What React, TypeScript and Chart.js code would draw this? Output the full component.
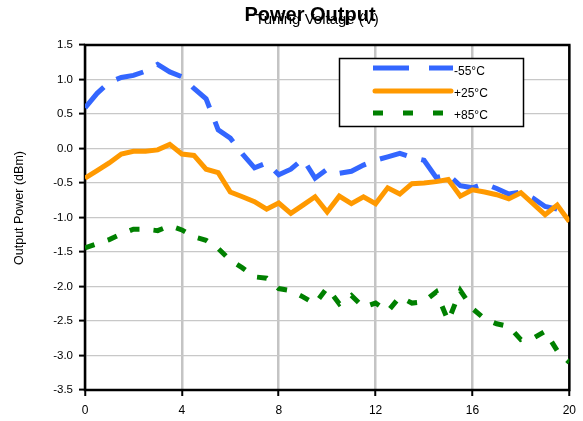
import { useEffect, useRef } from 'react';
import { Chart, registerables } from 'chart.js';

Chart.register(...registerables);

// ---- data ----
const VOLTAGE = [
  0, 0.5, 1, 1.5, 2, 2.5, 3, 3.5, 4, 4.5, 5, 5.5, 6, 6.5, 7, 7.5, 8, 8.5, 9, 9.5, 10,
  10.5, 11, 11.5, 12, 12.5, 13, 13.5, 14, 14.5, 15, 15.5, 16, 16.5, 17, 17.5, 18, 18.5, 19, 19.5, 20,
];
const MINUS55 = [
  0.59, 0.8, 0.96, 1.03, 1.06, 1.12, 1.22, 1.11, 1.04, 0.87, 0.72, 0.27, 0.15, -0.08, -0.28, -0.21,
  -0.38, -0.3, -0.15, -0.43, -0.3, -0.36, -0.33, -0.24, -0.17, -0.12, -0.07, -0.13, -0.17, -0.42,
  -0.38, -0.54, -0.57, -0.51, -0.58, -0.66, -0.63, -0.72, -0.84, -0.88, -0.95,
];
const PLUS25 = [
  -0.43, -0.32, -0.21, -0.08, -0.04, -0.04, -0.02, 0.06, -0.08, -0.1, -0.3, -0.35, -0.63, -0.7,
  -0.77, -0.88, -0.79, -0.94, -0.82, -0.7, -0.92, -0.69, -0.8, -0.7, -0.8, -0.57, -0.66, -0.51,
  -0.5, -0.48, -0.45, -0.69, -0.6, -0.63, -0.67, -0.73, -0.64, -0.8, -0.96, -0.82, -1.06,
];
const PLUS85 = [
  -1.44, -1.38, -1.32, -1.24, -1.17, -1.17, -1.19, -1.12, -1.18, -1.28, -1.33, -1.45, -1.62, -1.73,
  -1.86, -1.88, -2.03, -2.06, -2.15, -2.25, -2.02, -2.25, -2.13, -2.3, -2.24, -2.36, -2.15, -2.24,
  -2.22, -2.08, -2.5, -2.06, -2.32, -2.47, -2.54, -2.58, -2.77, -2.75, -2.65, -2.93, -3.1,
];
const SERIES_LABELS = ['-55°C', '+25°C', '+85°C'];
const X_MIN = 0;
const X_MAX = 20;
const X_STEP = 4;
const Y_MIN = -3.5;
const Y_MAX = 1.5;
const Y_STEP = 0.5;
const TITLE = 'Power Output';
const X_TITLE = 'Tuning Voltage (V)';
const Y_TITLE = 'Output Power (dBm)';

const FONT = '"Liberation Sans", Arial, Helvetica, sans-serif';
const COLORS = ['#3366ff', '#ff9900', '#008000'];
const PLOT_DASH = [[28, 15], [], [10, 14]];
const LEGEND_DASH = [[36, 20], [], [10, 20]];

const decorPlugin = {
  id: 'decor',
  beforeDatasetsDraw(chart: any) {
    const { ctx, chartArea } = chart;
    ctx.save();
    ctx.strokeStyle = '#000';
    ctx.lineWidth = 2.5;
    ctx.strokeRect(chartArea.left, chartArea.top, chartArea.right - chartArea.left, chartArea.bottom - chartArea.top);
    ctx.restore();
  },
  afterDraw(chart: any) {
    const { ctx } = chart;
    ctx.save();
    // legend box
    ctx.fillStyle = '#fff';
    ctx.fillRect(339.5, 58.5, 184, 68);
    ctx.strokeStyle = '#000';
    ctx.lineWidth = 1.5;
    ctx.strokeRect(339.5, 58.5, 184, 68);
    const lineY = [68, 91, 113];
    const textY = [72, 94, 116];
    SERIES_LABELS.forEach((lab, i) => {
      ctx.save();
      ctx.strokeStyle = COLORS[i];
      ctx.lineWidth = 5;
      ctx.lineCap = i === 1 ? 'round' : 'butt';
      ctx.setLineDash(LEGEND_DASH[i]);
      ctx.beginPath();
      ctx.moveTo(i === 1 ? 375 : 373, lineY[i]);
      ctx.lineTo(i === 1 ? 451 : 453, lineY[i]);
      ctx.stroke();
      ctx.restore();
      ctx.fillStyle = '#000';
      ctx.font = `12px ${FONT}`;
      ctx.textAlign = 'left';
      ctx.textBaseline = 'middle';
      ctx.fillText(lab, 454, textY[i]);
    });
    // titles
    ctx.fillStyle = '#000';
    ctx.textAlign = 'center';
    ctx.textBaseline = 'alphabetic';
    ctx.font = `15px ${FONT}`;
    ctx.fillText(X_TITLE, 317, 24);
    ctx.font = `bold 20px ${FONT}`;
    ctx.fillText(TITLE, 310, 21);
    // y title
    ctx.translate(20, 208);
    ctx.rotate(-Math.PI / 2);
    ctx.font = `12.5px ${FONT}`;
    ctx.textBaseline = 'middle';
    ctx.fillText(Y_TITLE, 0, 0);
    ctx.restore();
  },
};

export default function App() {
  const ref = useRef<HTMLCanvasElement>(null);
  useEffect(() => {
    if (!ref.current) return;
    Chart.defaults.font.family = FONT;
    const series = [MINUS55, PLUS25, PLUS85];
    const chart = new Chart(ref.current, {
      type: 'line',
      data: {
        datasets: series.map((vals, i) => ({
          label: SERIES_LABELS[i],
          data: VOLTAGE.map((x, j) => ({ x, y: vals[j] })),
          borderColor: COLORS[i],
          backgroundColor: COLORS[i],
          borderWidth: 5,
          borderDash: PLOT_DASH[i],
          borderCapStyle: 'butt',
          pointRadius: 0,
          tension: 0,
          fill: false,
          order: 3 - i === 1 ? 1 : 3 - i,
        })),
      },
      options: {
        animation: false,
        responsive: false,
        layout: { padding: { left: 0, top: 45, right: 12, bottom: 0 } },
        plugins: {
          legend: { display: false },
          title: { display: false },
          tooltip: { enabled: false },
        },
        scales: {
          x: {
            type: 'linear',
            min: X_MIN,
            max: X_MAX,
            ticks: { stepSize: X_STEP, color: '#000', font: { size: 12 }, padding: 7, maxRotation: 0 },
            grid: { color: '#c4c4c4', lineWidth: 2.5, tickColor: '#000', tickLength: 6, tickWidth: 2 },
            border: { display: false },
            afterFit: (s: any) => {
              s.height = 31;
            },
          },
          y: {
            type: 'linear',
            min: Y_MIN,
            max: Y_MAX,
            ticks: {
              stepSize: Y_STEP,
              color: '#000',
              font: { size: 11.5 },
              padding: 6,
              callback: (v: any) => Number(v).toFixed(1),
            },
            grid: { color: '#c8c8c8', lineWidth: 1.2, tickColor: '#000', tickLength: 6, tickWidth: 2 },
            border: { display: false },
            afterFit: (s: any) => {
              s.width = 85;
            },
          },
        },
      },
      plugins: [decorPlugin],
    } as any);
    return () => chart.destroy();
  }, []);
  return (
    <div style={{ position: 'fixed', left: 0, top: 0, width: 583, height: 421, background: '#fff' }}>
      <canvas ref={ref} width={583} height={421} />
    </div>
  );
}
